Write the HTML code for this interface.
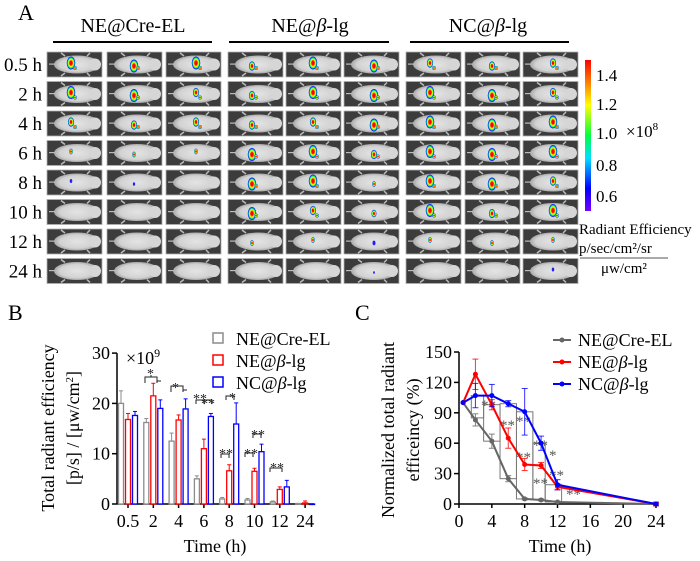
<!DOCTYPE html>
<html><head><meta charset="utf-8"><style>
body{margin:0;background:#fff}
svg{display:block}
svg text{font-family:"Liberation Serif","Times New Roman",Times,serif}
</style></head><body>
<svg id="fig" width="700" height="561" viewBox="0 0 700 561" xmlns="http://www.w3.org/2000/svg" font-family="Liberation Serif, Times New Roman, serif">
<defs>
<linearGradient id="cbar" x1="0" y1="1" x2="0" y2="0">
<stop offset="0" stop-color="#7a00ff"/><stop offset="0.15" stop-color="#0000ff"/><stop offset="0.35" stop-color="#00e0ff"/><stop offset="0.5" stop-color="#00ff40"/><stop offset="0.7" stop-color="#ffff00"/><stop offset="0.85" stop-color="#ff8000"/><stop offset="1" stop-color="#ff0000"/>
</linearGradient>
<radialGradient id="blob"><stop offset="0.3" stop-color="#ff0000"/><stop offset="0.55" stop-color="#ffff00"/><stop offset="0.75" stop-color="#00ff60"/><stop offset="0.9" stop-color="#0040ff"/><stop offset="1" stop-color="#2000ff"/></radialGradient>
<radialGradient id="mouse"><stop offset="0" stop-color="#e4e4e4"/><stop offset="0.75" stop-color="#d2d2d2"/><stop offset="1" stop-color="#a8a8a8"/></radialGradient>
</defs>
<g id="panelA">
<text x="18" y="20" font-size="22">A</text>
<text x="133" y="32" font-size="20" text-anchor="middle">NE@Cre-EL</text>
<line x1="53" y1="42" x2="212" y2="42" stroke="#000" stroke-width="2"/>
<text x="310" y="32" font-size="20" text-anchor="middle">NE@<tspan font-style="italic">β</tspan>-lg</text>
<line x1="229" y1="42" x2="389" y2="42" stroke="#000" stroke-width="2"/>
<text x="488" y="32" font-size="20" text-anchor="middle">NC@<tspan font-style="italic">β</tspan>-lg</text>
<line x1="410" y1="42" x2="569" y2="42" stroke="#000" stroke-width="2"/>
<g id="grid"></g>
<rect x="585" y="60" width="6" height="151" fill="url(#cbar)"/>
<g font-size="17">
<text x="596" y="81">1.4</text><text x="596" y="110">1.2</text><text x="596" y="139">1.0</text><text x="596" y="171">0.8</text><text x="596" y="202">0.6</text>
<text x="626" y="137">×10<tspan font-size="11" dy="-7">8</tspan></text>
</g>
<g font-size="15">
<text x="579" y="234">Radiant Efficiency</text>
<text x="579" y="253">p/sec/cm²/sr</text>
<line x1="580" y1="258" x2="668" y2="258" stroke="#555" stroke-width="1"/>
<text x="601" y="273">μw/cm²</text>
</g>
</g>

<g id="panelB">
<text x="8" y="320" font-size="22">B</text>
<text transform="translate(54,428) rotate(-90)" font-size="18" text-anchor="middle">Total radiant efficiency</text>
<text transform="translate(79,428) rotate(-90)" font-size="18" text-anchor="middle">[p/s] / [μw/cm<tspan font-size="11" dy="-6">2</tspan><tspan dy="6">]</tspan></text>
<text x="126" y="364" font-size="18">×10<tspan font-size="12" dy="-7">9</tspan></text>
<text x="215" y="552" font-size="18" text-anchor="middle">Time (h)</text>
<g id="bAxes"></g><g id="bBars"></g>
<g font-size="18">
<rect x="213" y="333" width="10" height="10" fill="none" stroke="#8c8c8c" stroke-width="1.5"/><text x="236" y="345">NE@Cre-EL</text>
<rect x="213" y="355" width="10" height="10" fill="none" stroke="#f00" stroke-width="1.5"/><text x="236" y="367">NE@<tspan font-style="italic">β</tspan>-lg</text>
<rect x="213" y="377" width="10" height="10" fill="none" stroke="#00f" stroke-width="1.5"/><text x="236" y="389">NC@<tspan font-style="italic">β</tspan>-lg</text>
</g>
<g font-size="14" fill="#222">
<path d="M145,383 v-6 h12 v6 M151,377 v-2 M157,381 h4" fill="none" stroke="#222"/><text x="147" y="378">*</text>
<path d="M171,392 v-6 h12 v6 M183,390 h4" fill="none" stroke="#222"/><text x="172" y="392">*</text>
<path d="M196,404 v-4 h8 M204,404 v-4 h8 v4" fill="none" stroke="#222"/><text x="193" y="403">**</text><text x="201" y="408">**</text>
<path d="M226,400 v-4 h8 v4" fill="none" stroke="#222"/><text x="229" y="402">*</text>
<path d="M221,458 v-4 h8 v4" fill="none" stroke="#222"/><text x="219" y="458">**</text>
<path d="M245,457 v-4 h8 v4 M253,438 v-4 h8 v4" fill="none" stroke="#222"/><text x="244" y="458">**</text><text x="251" y="439">**</text>
<path d="M270,472 v-4 h12 v4" fill="none" stroke="#222"/><text x="270" y="472">**</text>
</g>
</g>

<g id="panelC">
<text x="355" y="320" font-size="22">C</text>
<text transform="translate(394,430) rotate(-90)" font-size="18" text-anchor="middle">Normalized total radiant</text>
<text transform="translate(419,430) rotate(-90)" font-size="18" text-anchor="middle">efficeincy (%)</text>
<text x="560" y="552" font-size="18" text-anchor="middle">Time (h)</text>
<g id="cAxes"></g><g id="cSig"></g><g id="cLines"></g>
<g font-size="18">
<line x1="553" y1="340" x2="571" y2="340" stroke="#666" stroke-width="2"/><circle cx="562" cy="340" r="2.5" fill="#666"/><text x="578" y="346">NE@Cre-EL</text>
<line x1="553" y1="362" x2="571" y2="362" stroke="#f00" stroke-width="2"/><circle cx="562" cy="362" r="2.5" fill="#f00"/><text x="578" y="368">NE@<tspan font-style="italic">β</tspan>-lg</text>
<line x1="553" y1="384" x2="571" y2="384" stroke="#00f" stroke-width="2"/><circle cx="562" cy="384" r="2.5" fill="#00f"/><text x="578" y="390">NC@<tspan font-style="italic">β</tspan>-lg</text>
</g>
</g>
</svg>
<script>
// ---- Panel B data ----
const timesB = ["0.5","2","4","6","8","10","12","24"];
const creEL = [20,16.2,12.5,5,1,0.8,0.4,0.1];
const neBlg = [16.8,21.5,16.7,11,6.6,6.5,2.9,0.2];
const ncBlg = [17.6,19,18.9,17.4,15.9,10.4,3.4,0];
const creELErr = [2.5,0.8,1.6,0.6,0.3,0.3,0.2,0];
const neBlgErr = [1.2,2.5,1,1.9,1.2,0.6,0.5,0.4];
const ncBlgErr = [0.8,1.7,2,0.6,4.2,1.5,1.3,0];
const ticksB = [0,10,20,30];
// ---- Panel C data ----
const timesC = [0.5,2,4,6,8,10,12,24];
const normCre = [100,83,62,25,5,4,2,0];
const normNe = [100,128,98,65,39,38,17,0];
const normNc = [100,107,107,99,91,60,19,0];
const normCreErr = [0,6,7,3,1,1,1,1];
const normNeErr = [0,15,5,10,6,3,3,2];
const normNcErr = [0,12,11,3,23,7,5,1];
const ticksCY = [0,30,60,90,120,150];
const ticksCX = [0,4,8,12,16,20,24];
const rowLabels = ["0.5 h","2 h","4 h","6 h","8 h","10 h","12 h","24 h"];

const NS="http://www.w3.org/2000/svg";
function mk(tag,attrs,parent){const e=document.createElementNS(NS,tag);for(const k in attrs)e.setAttribute(k,attrs[k]);parent.appendChild(e);return e;}

// ---- Panel A grid ----
const grid=document.getElementById('grid');
const colX=[47,107,166,228,286,344,406,465,523];
const intensity=[[3,3,3,2,3,3,2,2,2],[3,3,2,2,3,3,3,3,2],[2,2,2,2,2,3,3,3,3],[1,1,1,3,3,2,3,3,3],[0.5,0.4,0,3,3,1,3,3,2],[0,0,0,3,2,1.5,3,2,3],[0,0,0,1,1,0.7,1,1,1],[0,0,0,0,0,0.2,0,0,0.5]];
rowLabels.forEach((lab,r)=>{
  const y=52+r*29.5;
  const t=mk('text',{x:42,y:y+19,'font-size':19,'text-anchor':'end'},grid);
  t.textContent=lab;
  
  
  colX.forEach((x,c)=>{
    const g=mk('g',{},grid);
    
    
    mk('rect',{x:x,y:y,width:55,height:25,fill:'#3c3c3c',stroke:'#b0b0b0','stroke-width':0.8},g);
    // legs
    mk('path',{d:`M${x+18},${y+4} l-4,-3 M${x+18},${y+21} l-4,3 M${x+40},${y+4} l3,-3 M${x+40},${y+21} l3,3`,stroke:'#bbb','stroke-width':1.5},g);
    mk('ellipse',{cx:x+30,cy:y+12.5,rx:23,ry:9,fill:'url(#mouse)'},g);
    mk('ellipse',{cx:x+48,cy:y+12.5,rx:6,ry:6,fill:'#d6d6d6'},g);
    mk('rect',{x:x+2,y:y+11.5,width:6,height:1.2,fill:'#bbb'},g);
    const s=intensity[r][c];
    if(s>0){
      const rad=0.8+s*1.4;
      mk('ellipse',{cx:x+24+(c%3)*3,cy:y+12+((c%2)?2:-1),rx:rad*0.85,ry:rad*1.3,fill:s<1?'#2020ff':'url(#blob)'},g);
      if(s>=2) mk('ellipse',{cx:x+28+(c%3)*3,cy:y+16,rx:1.8,ry:2,fill:'url(#blob)'},g);
    }
  });
});

// ---- Panel B ----
const bx0=117,bx1=314,by0=504,bpx=50.3/10;
const yB=v=>by0-v*bpx;
const xB=i=>128+i*25.3;
const bA=document.getElementById('bAxes');
mk('line',{x1:bx0,y1:yB(30),x2:bx0,y2:by0,stroke:'#000','stroke-width':1.5},bA);
mk('line',{x1:bx0,y1:by0,x2:bx1,y2:by0,stroke:'#000','stroke-width':1.5},bA);
ticksB.forEach(v=>{
  mk('line',{x1:bx0-5,y1:yB(v),x2:bx0,y2:yB(v),stroke:'#000','stroke-width':1.5},bA);
  const t=mk('text',{x:bx0-7,y:yB(v)+6,'font-size':18,'text-anchor':'end'},bA);t.textContent=v;
  
});
timesB.forEach((lab,i)=>{
  mk('line',{x1:xB(i),y1:by0,x2:xB(i),y2:by0+4,stroke:'#000','stroke-width':1.5},bA);
  const t=mk('text',{x:xB(i),y:by0+23,'font-size':18,'text-anchor':'middle'},bA);t.textContent=lab;
  
});
const bB=document.getElementById('bBars');
[[creEL,creELErr,'#8c8c8c',-7],[neBlg,neBlgErr,'#ff0000',0],[ncBlg,ncBlgErr,'#0000ff',7]].forEach(([vals,errs,col,off])=>{
  vals.forEach((v,i)=>{
    const cx=xB(i)+off;
    if(errs[i]>0){mk('line',{x1:cx,y1:yB(v),x2:cx,y2:yB(v+errs[i]),stroke:col,'stroke-width':1},bB);
      mk('line',{x1:cx-2,y1:yB(v+errs[i]),x2:cx+2,y2:yB(v+errs[i]),stroke:col,'stroke-width':1},bB);}
    const r=mk('rect',{x:cx-2.5,y:yB(v),width:5,height:Math.max(by0-yB(v),0.5),fill:'#fff',stroke:col,'stroke-width':1.3},bB);
    
    
  });
});

// ---- Panel C ----
const cx0=459,cpx=(656-459)/24,cy0=504,cpy=(504-352)/150;
const xC=t=>cx0+t*cpx, yC=v=>cy0-v*cpy;
const cA=document.getElementById('cAxes');
mk('line',{x1:cx0,y1:yC(150),x2:cx0,y2:cy0,stroke:'#000','stroke-width':1.5},cA);
mk('line',{x1:cx0,y1:cy0,x2:xC(24),y2:cy0,stroke:'#000','stroke-width':1.5},cA);
ticksCY.forEach(v=>{
  mk('line',{x1:cx0-5,y1:yC(v),x2:cx0,y2:yC(v),stroke:'#000','stroke-width':1.5},cA);
  const t=mk('text',{x:cx0-7,y:yC(v)+6,'font-size':18,'text-anchor':'end'},cA);t.textContent=v;
  
});
ticksCX.forEach(v=>{
  mk('line',{x1:xC(v),y1:cy0,x2:xC(v),y2:cy0+4,stroke:'#000','stroke-width':1.5},cA);
  const t=mk('text',{x:xC(v),y:cy0+23,'font-size':18,'text-anchor':'middle'},cA);t.textContent=v;
  
});
const cS=document.getElementById('cSig');
const sig=[[1.5,3,85,107],[3,5,62,98],[5,7,25,99],[7,9,5,91],[9,10.5,4,60],[10.5,12.5,2,19]];
sig.forEach(([a,b,lo,hi])=>{
  mk('rect',{x:xC(a),y:yC(hi),width:xC(b)-xC(a),height:yC(lo)-yC(hi),fill:'none',stroke:'#777','stroke-width':1},cS);
});
[['**',481,410],['**',500,430],['**',516,426],['**',516,462],['**',533,450],['*',549,460],['**',533,488],['**',549,480],['**',566,499]].forEach(([s,x,y])=>{
  const t=mk('text',{x:x,y:y,'font-size':15,fill:'#555'},cS);t.textContent=s;
});
const cL=document.getElementById('cLines');
[[normCre,normCreErr,'#666666'],[normNe,normNeErr,'#ff0000'],[normNc,normNcErr,'#0000ff']].forEach(([vals,errs,col])=>{
  vals.forEach((v,i)=>{
    if(errs[i]>0){const x=xC(timesC[i]);
      mk('line',{x1:x,y1:yC(v-errs[i]),x2:x,y2:yC(v+errs[i]),stroke:col,'stroke-width':1,opacity:0.8},cL);
      mk('line',{x1:x-3,y1:yC(v+errs[i]),x2:x+3,y2:yC(v+errs[i]),stroke:col,'stroke-width':1,opacity:0.8},cL);
      mk('line',{x1:x-3,y1:yC(v-errs[i]),x2:x+3,y2:yC(v-errs[i]),stroke:col,'stroke-width':1,opacity:0.8},cL);}
  });
  const p=mk('polyline',{points:vals.map((v,i)=>xC(timesC[i])+','+yC(v)).join(' '),fill:'none',stroke:col,'stroke-width':2},cL);
  
  
  vals.forEach((v,i)=>{
    const c=mk('circle',{cx:xC(timesC[i]),cy:yC(v),r:2.5,fill:col},cL);
    
    
  });
});
</script>
</body></html>
